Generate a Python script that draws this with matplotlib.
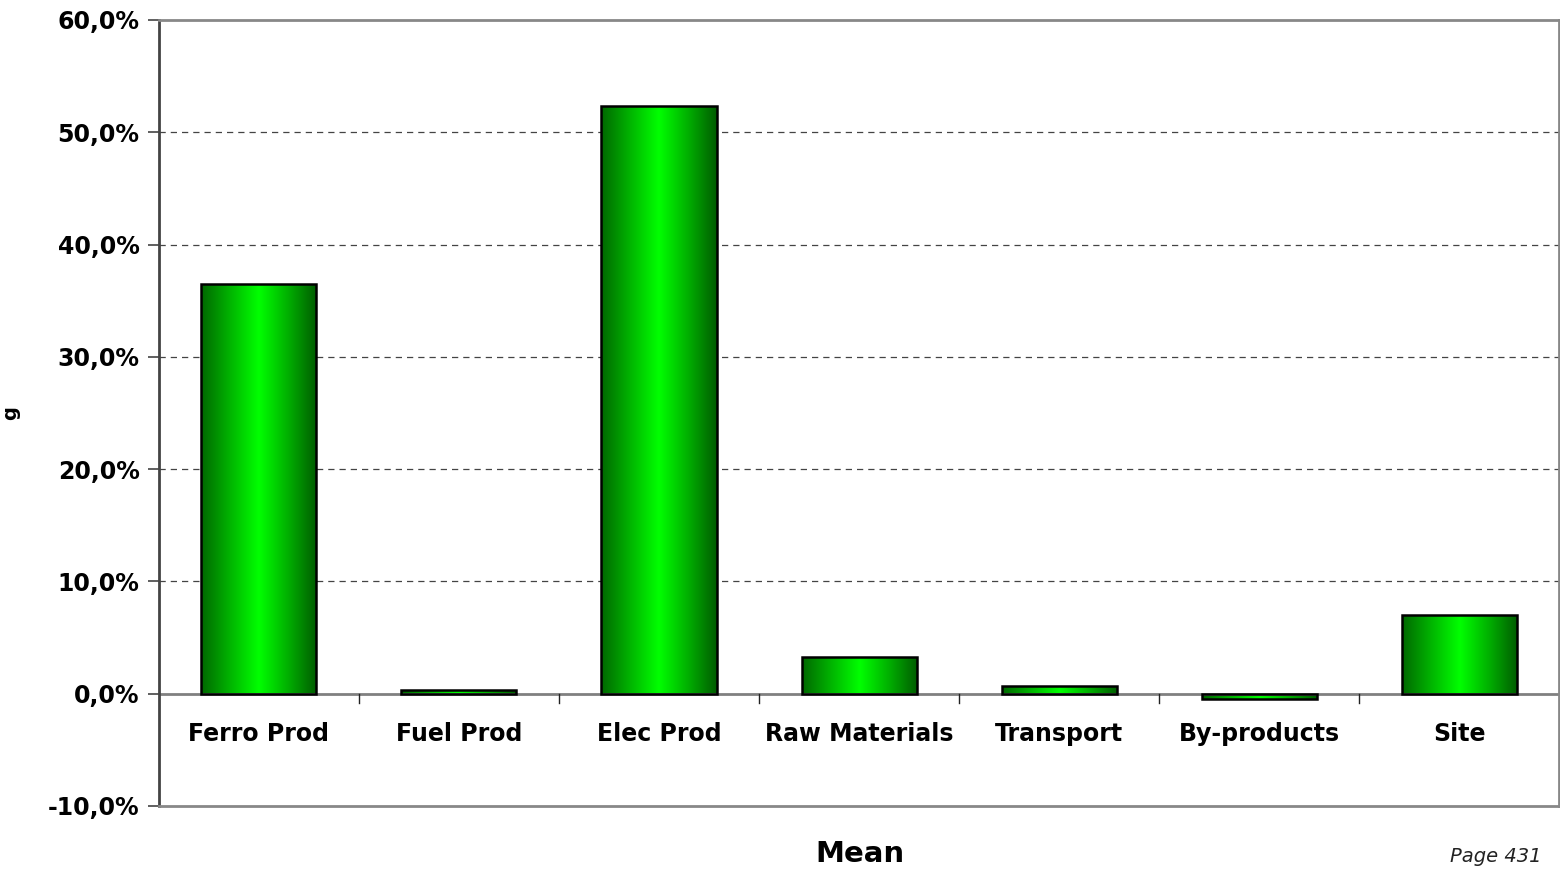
import numpy as np
import matplotlib.pyplot as plt
from matplotlib.colors import LinearSegmentedColormap
from matplotlib.ticker import FuncFormatter

# data
categories = ["Ferro Prod", "Fuel Prod", "Elec Prod", "Raw Materials", "Transport", "By-products", "Site"]
values = [36.5, 0.3, 52.3, 3.3, 0.7, -0.45, 7.0]  # percent

plt.rcParams['font.family'] = ['DejaVu Sans']
plt.rcParams['font.weight'] = 'bold'

fig = plt.figure(figsize=(15.6, 8.69), dpi=100)
ax = fig.add_axes([0.1019, 0.0725, 0.8975, 0.9045])

x = np.arange(len(categories))
width = 0.575
bars = ax.bar(x, values, width=width, color='none', edgecolor='black', linewidth=1.8, zorder=3)

# green gradient, dark at sides, bright in the middle
cmap = LinearSegmentedColormap.from_list('g', ['#006800', '#00b400', '#00ff00', '#00b000', '#005c00'])
grad = np.linspace(0, 1, 256).reshape(1, -1)
for b in bars:
    x0, y0 = b.get_x(), b.get_y()
    w, h = b.get_width(), b.get_height()
    im = ax.imshow(grad, cmap=cmap, aspect='auto', extent=[x0, x0 + w, y0, y0 + h], zorder=2)
    im.set_clip_path(b)

ax.set_xlim(-0.5, len(categories) - 0.5)
ax.set_ylim(-10, 60)
ax.set_yticks(np.arange(-10, 61, 10))
ax.yaxis.set_major_formatter(FuncFormatter(lambda v, p: f"{v:.1f}%".replace('.', ',')))
ax.tick_params(axis='y', labelsize=17, length=8, width=1.2, color='#444444', pad=6)
ax.set_xticks([])

for t in ax.get_yticklabels():
    t.set_fontweight('bold')

# grid
for gy in range(10, 60, 10):
    ax.axhline(gy, color='#444444', linestyle=(0, (5, 4)), linewidth=0.9, zorder=1)
ax.axhline(0, color='#808080', linewidth=2, zorder=2.5)

# category ticks on zero line
for bx in np.arange(0.5, len(categories) - 0.5, 1):
    ax.plot([bx, bx], [0, -0.8], color='#222222', linewidth=1, zorder=2.5)

# category labels under the zero line
for xi, name in zip(x, categories):
    ax.text(xi, -3.55, name, ha='center', va='center', fontsize=17, fontweight='bold')

for s in ['top', 'right', 'bottom']:
    ax.spines[s].set_color('#888888')
    ax.spines[s].set_linewidth(2)
ax.spines['left'].set_color('#444444')
ax.spines['left'].set_linewidth(2)

ax.set_ylabel('g', fontsize=14, fontweight='bold', labelpad=20)
fig.text(0.551, 0.017, 'Mean', ha='center', va='center', fontsize=21, fontweight='bold')
fig.text(0.988, 0.003, 'Page 431', ha='right', va='bottom', fontsize=14, style='italic',
         fontweight='normal', color='#222222')

plt.savefig("out.png", dpi=100)
